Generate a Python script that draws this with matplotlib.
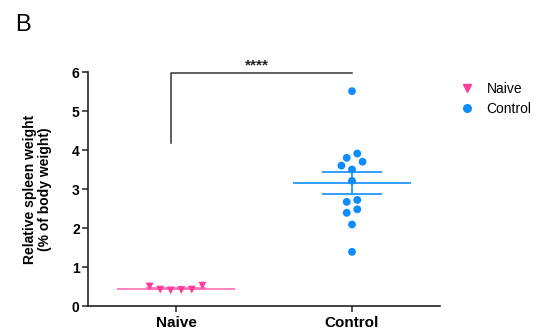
import numpy as np
import matplotlib
matplotlib.use("Agg")
import matplotlib.pyplot as plt
from matplotlib.lines import Line2D

matplotlib.rcParams["font.family"] = ["Liberation Sans", "DejaVu Sans"]

PINK = "#ff3d9a"
PINK_LINE = "#ff6fb5"
BLUE = "#0f8cff"

groups = ["Naive", "Control"]
naive = [0.52, 0.50, 0.42, 0.41, 0.40, 0.42]
control = [5.51, 3.91, 3.80, 3.70, 3.60, 3.50, 3.21, 2.72, 2.67, 2.48, 2.39, 2.09, 1.39]
y_ticks = [0, 1, 2, 3, 4, 5, 6]

ROW_HEIGHT = 0.22   # values closer than this share a row
SPACING = 0.06      # horizontal gap between points in a row (x data units)
MEAN_HALF = 0.335
CAP_PT = 21.5


def swarm_offsets(values):
    """Group values into rows from the bottom up, then spread each row
    outward from the centre, lowest value in the middle."""
    vals = np.asarray(values, dtype=float)
    order = np.argsort(vals, kind="stable")
    offsets = np.zeros(len(vals))
    rows, row = [], []
    for i in order:
        if row and vals[i] - vals[row[0]] > ROW_HEIGHT:
            rows.append(row)
            row = []
        row.append(i)
    rows.append(row)
    for row in rows:
        n = len(row)
        slots = np.arange(n) - (n - 1) / 2
        slots = sorted(slots, key=lambda s: (abs(s), s))
        for idx, s in zip(row, slots):
            offsets[idx] = s * SPACING
    return offsets


fig = plt.figure(figsize=(5.42, 3.30), dpi=100)
ax = fig.add_axes([0.1624, 0.0727, 0.6494, 0.709])

for xi, (vals, color, line_color, marker, size) in enumerate(
        [(naive, PINK, PINK_LINE, "v", 32), (control, BLUE, BLUE, "o", 32)]):
    vals = np.asarray(vals)
    mean = vals.mean()
    sem = vals.std(ddof=1) / np.sqrt(len(vals))
    ax.scatter(xi + swarm_offsets(vals), vals, s=size, marker=marker,
               color=color, edgecolors="none", zorder=3)
    ax.hlines(mean, xi - MEAN_HALF, xi + MEAN_HALF, color=line_color, lw=1.2, zorder=2)
    ax.errorbar(xi, mean, yerr=sem, color=line_color, elinewidth=1.2,
                capsize=CAP_PT, capthick=1.2, fmt="none", zorder=2)

# significance bracket
ax.plot([-0.03, -0.03, 1.0], [4.18, 5.97, 5.97], color="#333333", lw=1.1,
        clip_on=False)
ax.text(0.46, 6.0, "****", ha="center", va="bottom", fontsize=11,
        fontweight="bold", color="#222222", clip_on=False)

ax.set_xlim(-0.5, 1.5)
ax.set_ylim(0, 6)
ax.set_xticks(range(len(groups)))
ax.set_xticklabels(groups, fontsize=11, fontweight="bold")
ax.set_yticks(y_ticks)
ax.set_yticklabels([str(t) for t in y_ticks], fontsize=10, fontweight="bold")
ax.tick_params(axis="both", length=4, width=1.1, color="#222222", pad=2)
ax.tick_params(axis="x", pad=3)
for side in ["top", "right"]:
    ax.spines[side].set_visible(False)
for side in ["left", "bottom"]:
    ax.spines[side].set_linewidth(1.2)
    ax.spines[side].set_color("#222222")

ax.set_ylabel("Relative spleen weight\n(% of body weight)", fontsize=10,
              fontweight="bold", labelpad=14, linespacing=1.1)

handles = [
    Line2D([], [], marker="v", color=PINK, ls="none", markersize=6),
    Line2D([], [], marker="o", color=BLUE, ls="none", markersize=5.5),
]
fig.legend(handles, groups, loc="upper left", bbox_to_anchor=(0.826, 0.79),
           frameon=False, fontsize=10, handletextpad=0.9, labelspacing=0.45,
           handlelength=1.0)

fig.text(0.028, 0.905, "B", fontsize=17)

fig.savefig("out.png", dpi=100)
